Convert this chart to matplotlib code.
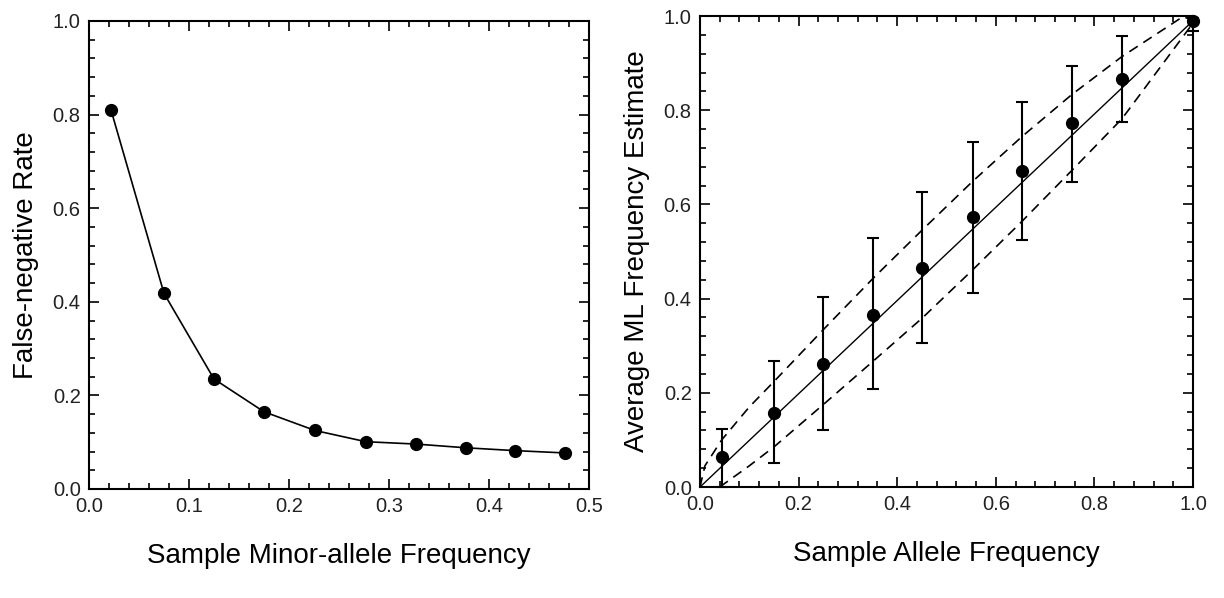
import numpy as np
import matplotlib
matplotlib.use("Agg")
import matplotlib.pyplot as plt
from matplotlib.ticker import MultipleLocator, FormatStrFormatter

plt.rcParams['font.family'] = ['Liberation Sans', 'DejaVu Sans']

# left panel: false-negative rate vs sample minor-allele frequency
maf = [0.022, 0.075, 0.125, 0.175, 0.226, 0.277, 0.327, 0.377, 0.426, 0.476]
fn_rate = [0.81, 0.418, 0.235, 0.165, 0.125, 0.101, 0.096, 0.088, 0.082, 0.077]

# right panel: average ML frequency estimate with error bars
af = [0.044, 0.151, 0.250, 0.351, 0.451, 0.553, 0.653, 0.755, 0.856, 1.0]
ml_est = [0.064, 0.157, 0.261, 0.366, 0.465, 0.573, 0.671, 0.772, 0.866, 0.989]
err_hi = [0.123, 0.267, 0.404, 0.528, 0.626, 0.733, 0.817, 0.894, 0.958, 0.995]
err_lo = [0.0, 0.050, 0.120, 0.209, 0.306, 0.412, 0.525, 0.647, 0.776, 0.969]

# diagonal and dashed bounds
diag_x = [0.0, 1.0]
diag_y = [0.0, 0.99]
upper_x = [0.0, 0.01, 0.044, 0.10, 0.151, 0.25, 0.351, 0.451, 0.553, 0.653, 0.755, 0.856, 0.98, 1.0]
upper_y = [0.0, 0.045, 0.10, 0.17, 0.225, 0.334, 0.443, 0.546, 0.649, 0.744, 0.834, 0.914, 0.999, 0.99]
lower_x = [0.04, 0.10, 0.151, 0.25, 0.351, 0.451, 0.553, 0.653, 0.755, 0.856, 1.0]
lower_y = [0.0, 0.045, 0.086, 0.175, 0.267, 0.359, 0.461, 0.564, 0.673, 0.782, 0.985]

fig = plt.figure(figsize=(12.24, 5.98), dpi=100)
ax1 = fig.add_axes([0.0727, 0.1823, 0.4085, 0.7826])
ax2 = fig.add_axes([0.5719, 0.1856, 0.4028, 0.7876])


def style(ax, xmaj, xmin, ymaj, ymin):
    ax.xaxis.set_major_locator(MultipleLocator(xmaj))
    ax.xaxis.set_minor_locator(MultipleLocator(xmin))
    ax.yaxis.set_major_locator(MultipleLocator(ymaj))
    ax.yaxis.set_minor_locator(MultipleLocator(ymin))
    ax.tick_params(which='both', direction='in', top=True, right=True, width=1.2)
    ax.tick_params(which='major', length=7, labelsize=14.5, pad=6, labelcolor='#222222')
    ax.tick_params(which='minor', length=4)
    for s in ax.spines.values():
        s.set_linewidth(1.5)
    ax.xaxis.set_major_formatter(FormatStrFormatter('%.1f'))
    ax.yaxis.set_major_formatter(FormatStrFormatter('%.1f'))


ax1.plot(maf, fn_rate, '-o', color='black', lw=1.2, ms=8.5)
ax1.set_xlim(0, 0.5)
ax1.set_ylim(0, 1.0)
style(ax1, 0.1, 0.02, 0.2, 0.04)
ax1.set_xlabel('Sample Minor-allele Frequency', fontsize=20, labelpad=19)
ax1.set_ylabel('False-negative Rate', fontsize=20, labelpad=10)

ax2.plot(diag_x, diag_y, '-', color='black', lw=1.0)
ax2.plot(upper_x, upper_y, '--', color='black', lw=1.2, dashes=(6, 4))
ax2.plot(lower_x, lower_y, '--', color='black', lw=1.2, dashes=(6, 4))
yerr = [np.array(ml_est) - np.array(err_lo), np.array(err_hi) - np.array(ml_est)]
ax2.errorbar(af, ml_est, yerr=yerr, fmt='o', color='black', ms=8.5,
             elinewidth=1.5, capsize=4, capthick=1.5, clip_on=False, zorder=3)
ax2.set_xlim(0, 1.0)
ax2.set_ylim(0, 1.0)
style(ax2, 0.2, 0.04, 0.2, 0.04)
ax2.set_xlabel('Sample Allele Frequency', fontsize=20, labelpad=19)
ax2.set_ylabel('Average ML Frequency Estimate', fontsize=20, labelpad=10)

fig.savefig('out.png', dpi=100)
